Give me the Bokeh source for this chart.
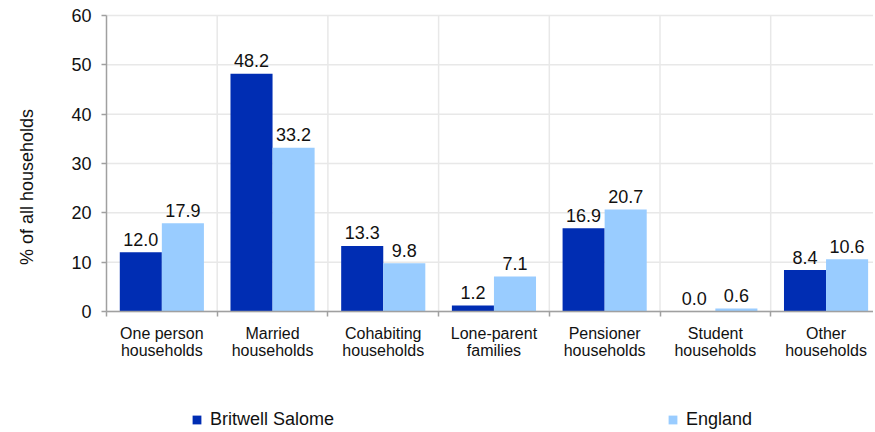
import math
from bokeh.plotting import figure
from bokeh.models import (ColumnDataSource, Range1d, FixedTicker, Legend, LegendItem, Label,
                          LinearAxis)
from bokeh.core.properties import value
from bokeh.embed import file_html
from bokeh.resources import INLINE

categories = ["One person\nhouseholds", "Married\nhouseholds", "Cohabiting\nhouseholds",
              "Lone-parent\nfamilies", "Pensioner\nhouseholds", "Student\nhouseholds",
              "Other\nhouseholds"]
britwell = [12.0, 48.2, 13.3, 1.2, 16.9, 0.0, 8.4]
england = [17.9, 33.2, 9.8, 7.1, 20.7, 0.6, 10.6]
series_names = ["Britwell Salome", "England"]
y_ticks = [0, 10, 20, 30, 40, 50, 60]

DARK = "#002DB3"
LIGHT = "#99CCFF"
FONT = "Liberation Sans"
TXT = "#111111"
GRID = "#E8E8E8"
AXIS = "#A0A0A0"
BAR_W = 0.38

W, H = 873, 430
PX_X = 110.7          # pixels per category
PX_Y = 296 / 60.0     # pixels per percentage point
X0_PX, Y0_PX = 106, 311

n = len(categories)
centers = [i + 0.5 for i in range(n)]
bounds = list(range(0, n))
x_dark = [c - BAR_W / 2 for c in centers]
x_light = [c + BAR_W / 2 for c in centers]
y_max = y_ticks[-1]

src_d = ColumnDataSource(dict(x=x_dark, top=britwell, lab=["%.1f" % v for v in britwell]))
src_l = ColumnDataSource(dict(x=x_light, top=england, lab=["%.1f" % v for v in england]))

p = figure(width=W, height=H, output_backend="svg", toolbar_location=None, title=None,
           x_range=Range1d(-X0_PX / PX_X, (W - X0_PX) / PX_X),
           y_range=Range1d(-(H - Y0_PX) / PX_Y, Y0_PX / PX_Y),
           min_border=0, x_axis_location=None, y_axis_location=None)
p.outline_line_color = None
p.background_fill_color = "white"
p.xgrid.visible = False
p.ygrid.visible = False

# grid lines limited to the data area
p.segment(x0=[0] * len(y_ticks), y0=y_ticks, x1=[n] * len(y_ticks), y1=y_ticks,
          line_color=GRID, line_width=1.5)
p.segment(x0=bounds[1:], y0=[0] * (n - 1), x1=bounds[1:], y1=[y_max] * (n - 1),
          line_color=GRID, line_width=1.5)

r1 = p.vbar(x="x", top="top", width=BAR_W, source=src_d, fill_color=DARK, line_color=None)
r2 = p.vbar(x="x", top="top", width=BAR_W, source=src_l, fill_color=LIGHT, line_color=None)

for s in (src_d, src_l):
    p.text(x="x", y="top", text="lab", source=s, text_align="center", text_baseline="alphabetic",
           y_offset=-13, text_font=value(FONT), text_font_size="18px", text_color=TXT)

# axes drawn at data zero
xa = LinearAxis(fixed_location=0, bounds=(0, n))
xa.ticker = FixedTicker(ticks=centers, minor_ticks=bounds)
xa.major_label_overrides = {c: lab for c, lab in zip(centers, categories)}
xa.major_tick_line_color = None
xa.major_tick_out = 5
xa.minor_tick_out = 5
xa.minor_tick_in = 0
xa.minor_tick_line_color = AXIS
xa.minor_tick_line_width = 1.5
xa.axis_line_color = AXIS
xa.axis_line_width = 1.5
xa.major_label_text_font = FONT
xa.major_label_text_font_size = "16px"
xa.major_label_text_line_height = 1.0
xa.major_label_text_color = TXT
xa.major_label_standoff = 8
p.add_layout(xa, "below")

ya = LinearAxis(fixed_location=0, bounds=(0, y_max))
ya.ticker = FixedTicker(ticks=y_ticks)
ya.major_tick_out = 5
ya.major_tick_in = 0
ya.minor_tick_line_color = None
ya.major_tick_line_color = AXIS
ya.major_tick_line_width = 1.5
ya.axis_line_color = AXIS
ya.axis_line_width = 1.5
ya.major_label_text_font = FONT
ya.major_label_text_font_size = "18px"
ya.major_label_text_color = TXT
ya.major_label_standoff = 10
p.add_layout(ya, "left")

ylab = Label(x=(26 - X0_PX) / PX_X, y=(Y0_PX - 186.5) / PX_Y, text="% of all households",
             angle=math.pi / 2, text_align="center", text_baseline="middle",
             text_font=FONT, text_font_size="18px", text_color=TXT)
p.add_layout(ylab)

legend = Legend(items=[LegendItem(label=series_names[0], renderers=[r1]),
                       LegendItem(label=series_names[1], renderers=[r2])],
                orientation="horizontal", location=(191, 0),
                border_line_color=None, background_fill_alpha=0,
                padding=0, margin=0, spacing=333,
                glyph_width=11, glyph_height=11, label_standoff=8, label_height=20,
                label_text_font=FONT, label_text_font_size="18px", label_text_color=TXT)
p.add_layout(legend, "center")

open("out.html", "w").write(file_html(p, INLINE))
